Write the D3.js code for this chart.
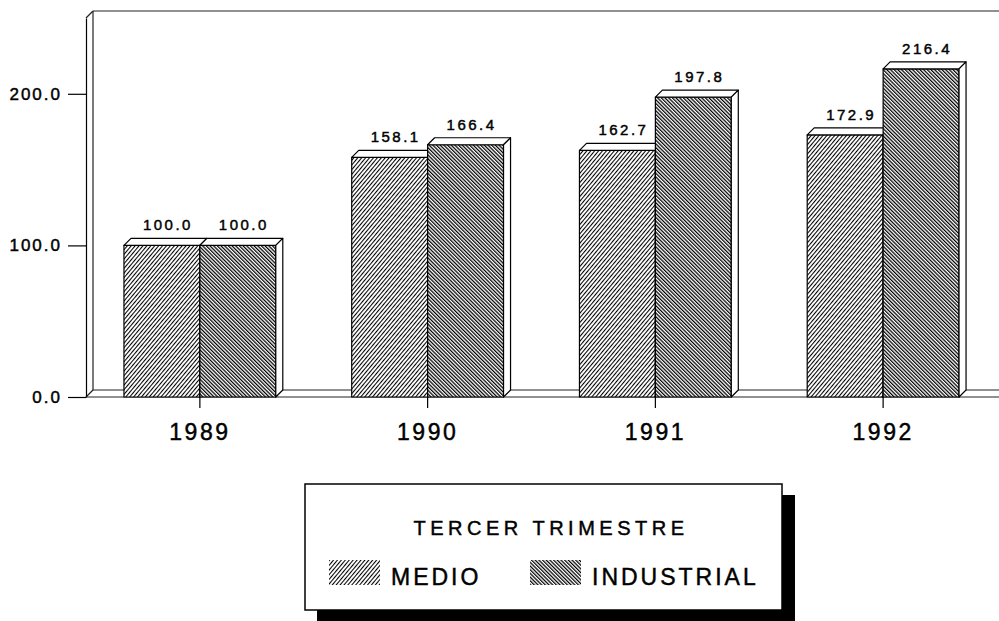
<!DOCTYPE html>
<html>
<head>
<meta charset="utf-8">
<script src="https://cdn.jsdelivr.net/npm/d3@7"></script>
<style>
  body { margin: 0; background: #fff; }
  svg { display: block; font-family: "Liberation Sans", Arial, sans-serif; }
  text { stroke: #000; stroke-width: 0.45px; fill: #000; }
</style>
</head>
<body>
<script>
const years = ["1989", "1990", "1991", "1992"]
const seriesNames = ["MEDIO", "INDUSTRIAL"]
const medio = [100.0, 158.1, 162.7, 172.9]
const industrial = [100.0, 166.4, 197.8, 216.4]
const yTicks = [0, 100, 200]
const legendTitle = "TERCER TRIMESTRE"

const W = 999, H = 621
const depth = 7

const svg = d3.select("body").append("svg").attr("width", W).attr("height", H)
svg.append("rect").attr("width", W).attr("height", H).attr("fill", "#fff")

// hatch patterns
const defs = svg.append("defs")
function hatch(id, size, width, angle) {
    const p = defs.append("pattern").attr("id", id)
        .attr("patternUnits", "userSpaceOnUse")
        .attr("width", size).attr("height", size)
        .attr("patternTransform", `rotate(${angle})`)
    p.append("rect").attr("width", size).attr("height", size).attr("fill", "#fff")
    p.append("line").attr("x1", 0.5).attr("y1", 0).attr("x2", 0.5).attr("y2", size)
        .attr("stroke", "#000").attr("stroke-width", width)
}
hatch("hatch-MEDIO", 3.0, 1.1, 40)
hatch("hatch-INDUSTRIAL", 2.6, 1.5, -45)

const x0 = d3.scaleBand().domain(years).range([86, 997])
const x1 = d3.scaleBand().domain(seriesNames).range([0, x0.bandwidth()]).paddingOuter(0.5)
const y = d3.scaleLinear().domain([0, 250]).range([397, 18])

// back walls / floor
const walls = svg.append("g").attr("stroke", "#222").attr("stroke-width", 1.2).attr("fill", "none")
const xb = x0.range()[0] + depth
walls.append("line").attr("x1", xb).attr("x2", xb).attr("y1", y(250) - depth).attr("y2", y(0) - depth)
walls.append("line").attr("x1", xb).attr("x2", W).attr("y1", y(250) - depth).attr("y2", y(250) - depth)
walls.append("line").attr("x1", xb).attr("x2", W).attr("y1", y(0) - depth).attr("y2", y(0) - depth)
walls.append("line").attr("x1", x0.range()[0]).attr("x2", xb).attr("y1", y(250)).attr("y2", y(250) - depth)
walls.append("line").attr("x1", x0.range()[0]).attr("x2", xb).attr("y1", y(0)).attr("y2", y(0) - depth)
walls.append("line").attr("x1", x0.range()[0]).attr("x2", W).attr("y1", y(0)).attr("y2", y(0))

// axes
const yAxis = svg.append("g").attr("transform", `translate(${x0.range()[0]},0)`)
    .call(d3.axisLeft(y).tickValues(yTicks).tickFormat(d3.format(".1f")).tickSize(18).tickPadding(6).tickSizeOuter(0))
yAxis.selectAll("text").attr("font-size", 17).attr("letter-spacing", 2)
    .attr("font-family", "Liberation Sans, Arial, sans-serif")
yAxis.selectAll("line, path").attr("stroke", "#000").attr("stroke-width", 1.2)

const xAxis = svg.append("g").attr("transform", `translate(0,${y(0)})`)
    .call(d3.axisBottom(x0).tickSize(11).tickSizeOuter(0))
xAxis.select(".domain").remove()
xAxis.selectAll("line").attr("stroke", "#000").attr("stroke-width", 1.2)
xAxis.selectAll("text").attr("y", 43).attr("dy", 0).attr("font-size", 23).attr("letter-spacing", 2.5)
    .attr("font-family", "Liberation Sans, Arial, sans-serif")

// bars
const bars = years.flatMap((yr, i) => [
    { year: yr, series: "MEDIO", value: medio[i] },
    { year: yr, series: "INDUSTRIAL", value: industrial[i] }
])

const barG = svg.append("g").selectAll("g").data(bars).join("g")
    .attr("stroke", "#000").attr("stroke-width", 1.2).attr("stroke-linejoin", "round")

barG.each(function (d) {
    const g = d3.select(this)
    const xl = x0(d.year) + x1(d.series)
    const xr = xl + x1.bandwidth()
    const yt = y(d.value), yb = y(0)
    g.append("rect").attr("x", xl).attr("y", yt).attr("width", x1.bandwidth()).attr("height", yb - yt)
        .attr("fill", `url(#hatch-${d.series})`)
    g.append("polygon").attr("fill", "#fff")
        .attr("points", [[xl, yt], [xl + depth, yt - depth], [xr + depth, yt - depth], [xr, yt]].join(" "))
    g.append("polygon").attr("fill", "#fff")
        .attr("points", [[xr, yt], [xr + depth, yt - depth], [xr + depth, yb - depth], [xr, yb]].join(" "))
})

svg.append("g").selectAll("text").data(bars).join("text")
    .attr("x", d => x0(d.year) + x1(d.series) + x1.bandwidth() / 2 + 6)
    .attr("y", d => y(d.value) - 15)
    .attr("text-anchor", "middle").attr("font-size", 15).attr("letter-spacing", 2.5)
    .text(d => d3.format(".1f")(d.value))

// legend
const legend = svg.append("g")
legend.append("rect").attr("x", 317).attr("y", 495).attr("width", 478).attr("height", 130).attr("fill", "#000")
legend.append("rect").attr("x", 305).attr("y", 484).attr("width", 477).attr("height", 126)
    .attr("fill", "#fff").attr("stroke", "#000").attr("stroke-width", 1.5)
legend.append("text").attr("x", 551).attr("y", 535).attr("text-anchor", "middle")
    .attr("font-size", 20).attr("letter-spacing", 4.5).text(legendTitle)

const items = [{ name: "MEDIO", x: 329 }, { name: "INDUSTRIAL", x: 530 }]
const item = legend.selectAll(".item").data(items).join("g").attr("class", "item")
item.append("rect").attr("x", d => d.x).attr("y", 560).attr("width", 51).attr("height", 25)
    .attr("fill", d => `url(#hatch-${d.name})`)
item.append("text").attr("x", d => d.x + 62).attr("y", 585)
    .attr("font-size", 23).attr("letter-spacing", 3).text(d => d.name)
</script>
</body>
</html>
